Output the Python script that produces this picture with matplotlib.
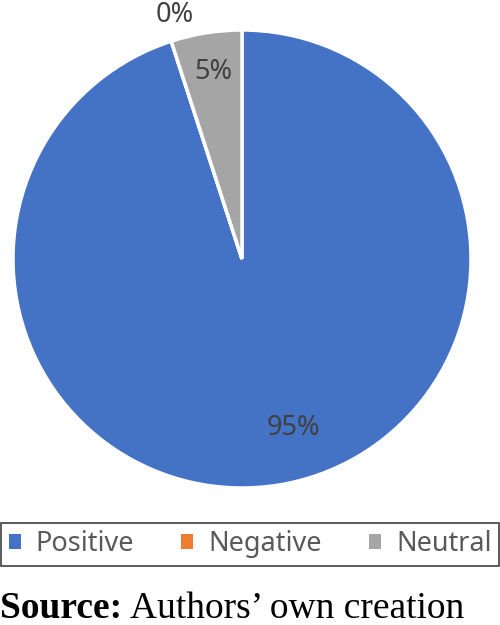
import matplotlib.pyplot as plt
from matplotlib.patches import Patch

categories = ['Positive', 'Negative', 'Neutral']
shares = [95, 0, 5]
pctLabels = ['95%', '0%', '5%']
colors = ['#4472C4', '#ED7D31', '#A5A5A5']
# label spots in pie units (radius = 1)
labelSpots = [(0.223, -0.738), (-0.293, 1.035), (-0.127, 0.817)]
labelAlign = ['center', 'baseline', 'center']

fig = plt.figure(figsize=(5, 6.25), dpi=100)
ax = fig.add_axes([13 / 500, 137 / 625, 458 / 500, 458 / 625])

wedges, _ = ax.pie(shares, colors=colors, startangle=90, counterclock=False,
                   radius=1, wedgeprops=dict(edgecolor='white', linewidth=2.5))
ax.set_xlim(-1, 1)
ax.set_ylim(-1, 1)
ax.set_aspect('equal')
ax.axis('off')

for (x, y), txt, va in zip(labelSpots, pctLabels, labelAlign):
    ax.text(x, y, txt, ha='center', va=va, fontsize=19.5, color='#404040',
            family='Noto Sans', clip_on=False)

handles = [Patch(facecolor=c, edgecolor='none') for c in colors]
leg = fig.legend(handles, categories, loc='lower left', ncol=3, mode='expand',
                 bbox_to_anchor=(1 / 500, 59 / 625, 498 / 500, 45 / 625),
                 fancybox=False, edgecolor='#404040', framealpha=1,
                 handlelength=0.45, handleheight=0.45, handletextpad=0.55,
                 borderpad=0.28, borderaxespad=0.0,
                 prop=dict(family='Noto Sans', size=19.5))
leg.get_frame().set_linewidth(1.2)
for t in leg.get_texts():
    t.set_color('#595959')

t1 = fig.text(0.0, 7 / 625, 'Source:', fontsize=27, fontweight='bold',
              family='Liberation Serif', ha='left', va='baseline')
fig.canvas.draw()
bb = t1.get_window_extent()
fig.text((bb.x1 + 8) / 500, 7 / 625, 'Authors\u2019 own creation', fontsize=27,
         family='Liberation Serif', ha='left', va='baseline')

fig.savefig('out.png', dpi=100)
